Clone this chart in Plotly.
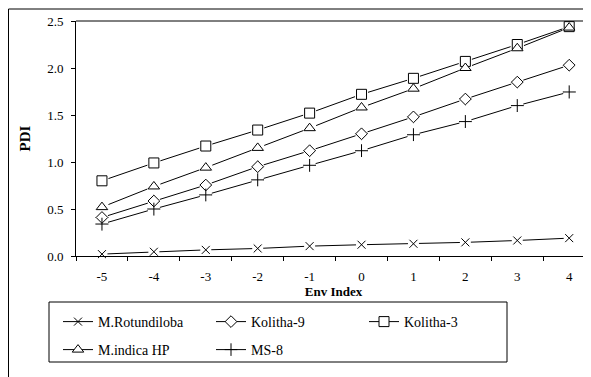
import plotly.graph_objects as go

env_index = [-5, -4, -3, -2, -1, 0, 1, 2, 3, 4]
tick_labels = ["-5", "-4", "-3", "-2", "-1", "0", "1", "2", "3", "4"]

m_rotundiloba = [0.02, 0.045, 0.065, 0.08, 0.105, 0.12, 0.13, 0.145, 0.165, 0.19]
kolitha_9 = [0.41, 0.585, 0.755, 0.95, 1.12, 1.30, 1.48, 1.67, 1.85, 2.03]
kolitha_3 = [0.80, 0.99, 1.17, 1.34, 1.52, 1.72, 1.89, 2.07, 2.25, 2.44]
m_indica_hp = [0.52, 0.74, 0.94, 1.15, 1.36, 1.58, 1.78, 2.00, 2.21, 2.43]
ms_8 = [0.34, 0.50, 0.65, 0.81, 0.965, 1.12, 1.29, 1.43, 1.60, 1.745]

series = [
    ("M.Rotundiloba", m_rotundiloba, "x-thin", 8, "legend"),
    ("Kolitha-9", kolitha_9, "diamond", 9, "legend"),
    ("Kolitha-3", kolitha_3, "square", 10, "legend"),
    ("M.indica HP", m_indica_hp, "triangle-up", 10, "legend2"),
    ("MS-8", ms_8, "cross-thin", 9, "legend2"),
]

FONT = "Liberation Serif, Times New Roman, Tinos, serif"
fig = go.Figure()

for name, vals, sym, size, lg in series:
    fig.add_trace(go.Scatter(
        x=env_index, y=vals, name=name, mode="lines+markers", legend=lg,
        line=dict(color="black", width=1),
        marker=dict(symbol=sym, size=size, color="white", line=dict(color="black", width=1)),
        cliponaxis=False,
    ))
for name, vals, sym, size, lg in series:
    fig.add_trace(go.Scatter(
        x=env_index, y=vals, mode="markers", showlegend=False, hoverinfo="skip",
        marker=dict(symbol="square", size=size + 3, color="white", line=dict(width=0)),
        cliponaxis=False,
    ))
for name, vals, sym, size, lg in series:
    fig.add_trace(go.Scatter(
        x=env_index, y=vals, mode="markers", showlegend=False,
        marker=dict(symbol=sym, size=size, color="white", line=dict(color="black", width=1)),
        cliponaxis=False,
    ))

# page body has an 8px margin; figure drawn at screen offset (8, 8)
W, H = 583, 369
L, T = 68, 13
PW, PH = 515, 235
B = H - T - PH

legend_common = dict(
    orientation="h", xref="paper", yanchor="middle", xanchor="left",
    entrywidth=108, entrywidthmode="pixels", borderwidth=0,
    bgcolor="rgba(0,0,0,0)",
    font=dict(family=FONT, size=14, color="black"),
    tracegroupgap=0, itemwidth=30,
)

fig.update_layout(
    width=W, height=H,
    margin=dict(l=L, r=W - L - PW, t=T, b=B, autoexpand=False),
    paper_bgcolor="white", plot_bgcolor="white",
    font=dict(family=FONT, color="black", size=13),
    showlegend=True,
    legend=dict(x=-18 / PW, y=-66 / PH, **legend_common),
    legend2=dict(x=-18 / PW, y=-94 / PH, **legend_common),
    xaxis=dict(
        range=[-5.5, 4.42], tickmode="array", tickvals=env_index, ticktext=tick_labels,
        ticks="", showgrid=False, zeroline=False, showline=True,
        linecolor="black", linewidth=1,
        tickfont=dict(family=FONT, size=13), ticklabelstandoff=8,
        minor=dict(tickmode="array", tickvals=[v + 0.5 for v in env_index[:-1]] + [-5.5],
                   ticks="outside", ticklen=4, tickcolor="black", showgrid=False),
        title=dict(text="<b>Env Index</b>", font=dict(family=FONT, size=13), standoff=4),
    ),
    yaxis=dict(
        range=[0, 2.5], tickvals=[0, 0.5, 1.0, 1.5, 2.0, 2.5], tickformat=".1f",
        ticks="outside", ticklen=4, tickcolor="black", ticklabelstandoff=5,
        showgrid=False, zeroline=False, showline=True, linecolor="black", linewidth=1,
        tickfont=dict(family=FONT, size=13),
        title=dict(text="<b>PDI</b>", font=dict(family=FONT, size=15), standoff=12),
    ),
    shapes=[
        # plot-area top edge
        dict(type="line", xref="paper", yref="paper", x0=0, x1=1, y0=1, y1=1,
             line=dict(color="black", width=1)),
        # outer chart border (top and left)
        dict(type="line", xref="paper", yref="paper", x0=-67.5 / PW, x1=1.02,
             y0=1 + (T - 1) / PH, y1=1 + (T - 1) / PH,
             line=dict(color="black", width=1)),
        dict(type="line", xref="paper", yref="paper", x0=-67.5 / PW, x1=-67.5 / PW,
             y0=-B / PH - 0.02, y1=1 + (T - 1) / PH,
             line=dict(color="black", width=1)),
        # legend frame
        dict(type="rect", xref="paper", yref="paper", x0=-27 / PW, x1=431 / PW,
             y0=-106 / PH, y1=-46 / PH, line=dict(color="black", width=1),
             fillcolor="rgba(0,0,0,0)", layer="below"),
    ],
)

fig.write_html("out.html")
